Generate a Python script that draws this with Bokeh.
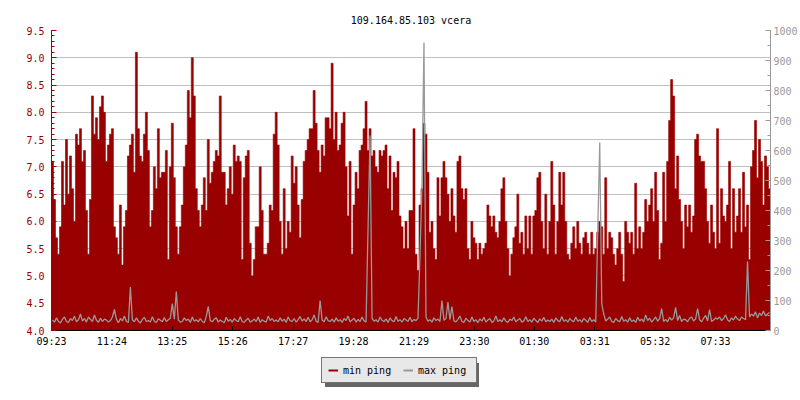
from bokeh.plotting import figure
from bokeh.layouts import column
from bokeh.models import (Range1d, LinearAxis, FixedTicker, Legend, LegendItem,
                          ColumnDataSource, NumeralTickFormatter)
from bokeh.embed import file_html
from bokeh.resources import INLINE

title_text = "109.164.85.103 vcera"
sample_minutes = 4
span_minutes = 1440

tick_labels = ["09:23", "11:24", "13:25", "15:26", "17:27", "19:28",
               "21:29", "23:30", "01:30", "03:31", "05:32", "07:33"]

left_ticks = [4.0, 4.5, 5.0, 5.5, 6.0, 6.5, 7.0, 7.5, 8.0, 8.5, 9.0, 9.5]
right_ticks = [0, 100, 200, 300, 400, 500, 600, 700, 800, 900, 1000]

series_names = ["min ping", "max ping"]

# min ping (ms), one value every 4 minutes from 09:23
min_ping = [
    7.1, 6.4, 5.7, 5.4, 5.9, 7.1, 6.3, 7.5, 6.5, 7.2,
    6.6, 6.0, 7.6, 7.4, 7.7, 7.1, 7.3, 6.2, 5.4, 6.4,
    8.3, 7.6, 7.9, 7.5, 8.1, 8.3, 8.0, 7.1, 7.4, 7.6,
    7.7, 5.9, 5.7, 5.4, 6.3, 5.2, 5.9, 6.2, 7.2, 7.4,
    7.6, 6.9, 9.1, 7.7, 7.2, 7.1, 7.6, 8.0, 7.3, 5.9,
    6.2, 7.0, 6.6, 7.7, 6.8, 6.9, 6.9, 7.3, 5.3, 7.0,
    7.8, 6.8, 5.9, 5.4, 5.9, 6.3, 7.0, 7.4, 8.4, 7.9,
    9.0, 8.3, 6.6, 6.2, 5.9, 6.3, 6.8, 6.2, 7.5, 6.7,
    6.9, 7.1, 7.3, 7.2, 8.3, 6.9, 6.9, 6.3, 6.6, 7.0,
    6.5, 7.4, 7.1, 7.2, 7.1, 5.3, 6.8, 7.2, 7.3, 5.6,
    5.0, 5.3, 5.9, 5.9, 7.0, 6.2, 5.4, 5.4, 5.6, 6.3,
    6.2, 7.6, 8.0, 7.4, 6.0, 5.4, 6.6, 5.5, 6.0, 5.8,
    7.2, 6.7, 7.0, 6.3, 5.7, 6.4, 7.1, 7.3, 7.5, 7.7,
    7.7, 8.4, 7.8, 7.3, 6.9, 7.4, 7.2, 7.9, 7.9, 7.7,
    8.9, 7.5, 8.0, 7.3, 7.4, 7.8, 8.0, 7.0, 6.1, 7.1,
    5.4, 6.3, 6.9, 6.6, 7.3, 7.4, 7.7, 8.2, 7.3, 7.7,
    7.2, 7.3, 7.0, 6.9, 7.3, 7.2, 7.3, 7.4, 6.6, 7.2,
    6.2, 6.9, 6.8, 7.1, 6.1, 5.9, 5.5, 6.0, 5.5, 6.2,
    6.2, 7.7, 5.4, 5.1, 6.3, 6.6, 7.8, 7.6, 6.9, 5.8,
    6.0, 5.5, 5.3, 6.8, 6.1, 6.8, 7.1, 6.8, 6.5, 6.0,
    6.6, 6.1, 5.8, 7.1, 7.2, 6.6, 6.4, 6.6, 5.5, 5.3,
    6.0, 5.7, 5.6, 5.3, 5.6, 5.4, 5.5, 5.6, 6.3, 6.1,
    5.9, 6.1, 5.8, 5.7, 6.0, 6.6, 6.8, 6.0, 5.5, 5.0,
    5.4, 5.7, 5.9, 6.5, 5.6, 5.8, 5.4, 6.1, 5.5, 6.1,
    5.4, 6.1, 6.2, 6.8, 6.9, 6.0, 5.5, 6.5, 5.4, 6.0,
    7.1, 6.3, 5.4, 6.0, 6.9, 6.3, 6.9, 6.0, 5.4, 5.3,
    5.6, 5.9, 5.5, 6.0, 5.6, 5.4, 5.7, 5.8, 5.6, 5.4,
    5.8, 5.4, 5.5, 5.8, 6.0, 5.9, 5.4, 6.8, 5.5, 5.8,
    5.7, 5.4, 5.2, 5.5, 5.8, 5.4, 4.9, 6.0, 5.8, 5.6,
    5.8, 5.4, 6.7, 5.5, 5.9, 5.5, 5.8, 6.4, 6.0, 6.3,
    6.6, 6.0, 6.9, 6.2, 5.3, 5.6, 6.9, 6.0, 7.1, 7.85,
    8.6, 8.3, 6.6, 7.2, 6.4, 6.0, 5.5, 6.3, 5.9, 6.3,
    5.8, 6.1, 7.5, 7.6, 7.2, 7.1, 7.1, 6.6, 6.0, 5.6,
    6.3, 5.8, 5.5, 7.7, 5.6, 6.6, 6.1, 6.0, 6.3, 7.1,
    5.5, 6.6, 5.8, 6.1, 6.6, 5.8, 6.9, 5.9, 6.3, 5.3,
    7.0, 7.3, 7.85, 6.8, 7.5, 7.1, 6.3, 7.2, 7.0, 6.6,
]

# max ping (ms), same sampling
max_ping = [
    35, 28, 42, 30, 25, 38, 45, 30, 27, 40, 33, 48, 29, 36, 55, 31, 40, 28, 45, 37,
    30, 52, 34, 27, 41, 30, 38, 35, 28, 33, 45, 70, 38, 26, 40, 32, 48, 30, 27, 145,
    36, 29, 42, 31, 25, 37, 44, 30, 33, 28, 46, 31, 27, 39, 34, 29, 43, 30, 36, 41,
    90, 38, 130, 35, 28, 30, 42, 33, 38, 27, 45, 31, 36, 29, 40, 30, 26, 47, 80, 33,
    29, 38, 42, 28, 35, 30, 26, 44, 31, 37, 28, 40, 33, 29, 46, 30, 27, 35, 41, 28,
    32, 38, 30, 45, 27, 36, 31, 28, 48, 33, 40, 30, 35, 29, 42, 31, 38, 27, 45, 33,
    30, 40, 28, 36, 47, 31, 39, 30, 44, 29, 36, 52, 31, 27, 100, 35, 29, 46, 33, 30,
    38, 28, 42, 31, 36, 27, 40, 33, 48, 29, 35, 41, 28, 37, 30, 45, 32, 28, 345, 650,
    40, 31, 36, 28, 45, 34, 30, 39, 27, 42, 33, 29, 47, 31, 36, 28, 40, 35, 30, 44,
    29, 37, 33, 41, 250, 490, 960, 45, 31, 36, 28, 42, 33, 38, 30, 100, 34, 40, 95, 36,
    80, 32, 29, 37, 48, 30, 27, 41, 33, 28, 45, 30, 36, 26, 39, 31, 44, 28, 35, 40,
    27, 32, 48, 30, 36, 29, 42, 31, 27, 38, 33, 45, 29, 35, 40, 28, 32, 46, 30, 36,
    28, 41, 33, 27, 39, 31, 44, 29, 35, 30, 38, 27, 42, 33, 29, 47, 31, 36, 28, 40,
    33, 29, 45, 31, 36, 28, 40, 34, 27, 43, 30, 36, 28, 330, 627, 90, 55, 32, 38, 45,
    30, 27, 40, 33, 29, 47, 31, 36, 28, 42, 30, 35, 27, 44, 32, 38, 29, 52, 33, 41,
    28, 36, 45, 31, 40, 73, 30, 37, 29, 44, 35, 42, 77, 33, 50, 30, 38, 36, 29, 41,
    45, 32, 38, 73, 36, 29, 41, 50, 32, 70, 30, 35, 42, 38, 45, 33, 40, 52, 36, 30,
    42, 35, 48, 38, 33, 45, 40, 36, 230, 45, 55, 48, 62, 42, 58, 50, 65, 48, 55, 60,
]

RED = "#990000"
GRAY = "#999999"
FONT = "DejaVu Sans Mono"

# sample times (minutes since the start, 09:23)
x = [i * sample_minutes for i in range(len(min_ping))]
x_end = [v + sample_minutes for v in x]
x_mid = [v + sample_minutes / 2 for v in x]

# outline of the stepped min-ping area, built from the series (one solid shape, no seams)
area_x, area_y = [x[0]], [left_ticks[0]]
for a, b, v in zip(x, x_end, min_ping):
    area_x += [a, b]
    area_y += [v, v]
area_x.append(x_end[-1])
area_y.append(left_ticks[0])


def to_minutes(lbl, start=tick_labels[0]):
    h, m = map(int, lbl.split(":"))
    h0, m0 = map(int, start.split(":"))
    return (h * 60 + m - (h0 * 60 + m0)) % 1440


tick_pos = [to_minutes(t) for t in tick_labels]

src = ColumnDataSource(dict(x=x, x_end=x_end, x_mid=x_mid, min=min_ping, max=max_ping))

p = figure(width=800, height=352, output_backend="svg", toolbar_location=None,
           x_range=Range1d(0, span_minutes), y_range=Range1d(left_ticks[0], left_ticks[-1]),
           min_border_left=51, min_border_right=30, min_border_top=30, min_border_bottom=22,
           title=title_text, outline_line_color=None, background_fill_color="white",
           border_fill_color="white")
p.extra_y_ranges = {"ms": Range1d(right_ticks[0], right_ticks[-1])}

p.title.text_font = FONT
p.title.text_font_size = "10px"
p.title.text_font_style = "normal"
p.title.align = "center"
p.title.text_color = "black"

# red area (min ping)
p.patch(x=area_x, y=area_y, fill_color=RED, line_color=RED, line_width=0.6)
# gray line (max ping) on right axis
p.line(x="x_mid", y="max", source=src, y_range_name="ms",
       line_color=GRAY, line_width=1.3)

# left axis
lt = FixedTicker(ticks=left_ticks,
                 minor_ticks=[round(4.0 + 0.1 * k, 1) for k in range(56)])
ya = p.yaxis[0]
ya.ticker = lt
ya.formatter = NumeralTickFormatter(format="0.0")
ya.axis_line_color = RED
ya.major_tick_line_color = RED
ya.minor_tick_line_color = RED
ya.major_tick_in = 5
ya.major_tick_out = 0
ya.minor_tick_in = 3
ya.minor_tick_out = 0
ya.major_label_text_color = RED
ya.major_label_text_font = FONT
ya.major_label_text_font_size = "10px"
ya.major_label_standoff = 7

# right axis
rt = FixedTicker(ticks=right_ticks, minor_ticks=list(range(0, 1001, 50)))
ra = LinearAxis(y_range_name="ms", ticker=rt)
ra.axis_line_color = GRAY
ra.major_tick_line_color = GRAY
ra.minor_tick_line_color = GRAY
ra.major_tick_in = 5
ra.major_tick_out = 0
ra.minor_tick_in = 3
ra.minor_tick_out = 0
ra.major_label_text_color = GRAY
ra.major_label_text_font = FONT
ra.major_label_text_font_size = "10px"
ra.major_label_standoff = 3
p.add_layout(ra, "right")

# x axis
xa = p.xaxis[0]
xa.ticker = FixedTicker(ticks=tick_pos, minor_ticks=[])
xa.major_label_overrides = {t: l for t, l in zip(tick_pos, tick_labels)}
xa.axis_line_color = "black"
xa.major_tick_line_color = "black"
xa.major_tick_in = 4
xa.major_tick_out = 0
xa.minor_tick_line_color = None
xa.major_label_text_font = FONT
xa.major_label_text_font_size = "10px"
xa.major_label_text_color = "black"
xa.major_label_standoff = 5

p.xgrid.visible = False
p.ygrid.ticker = lt
p.ygrid.grid_line_color = "#c0c0c0"

# legend strip (separate small figure so the boxed legend with shadow is not clipped)
lf = figure(width=800, height=48, output_backend="svg", toolbar_location=None,
            x_axis_type=None, y_axis_type=None, min_border=0, outline_line_color=None,
            x_range=Range1d(0, 1), y_range=Range1d(-2, -1), background_fill_color="white",
            border_fill_color="white")
# legend renderers: series lines kept outside this strip's visible range
l_min = lf.line(x="x", y="min", source=src, line_color=RED, line_width=2)
l_max = lf.line(x="x", y="max", source=src, line_color=GRAY, line_width=2)
s_min = lf.line(x="x", y="min", source=src, line_alpha=0)
s_max = lf.line(x="x", y="max", source=src, line_alpha=0)

common = dict(orientation="horizontal", glyph_width=10, glyph_height=12, label_height=12,
              label_standoff=5, spacing=8, padding=6, margin=0, label_width=52,
              label_text_font=FONT, label_text_font_size="10px")

shadow = Legend(items=[LegendItem(label=" ", renderers=[s_min]),
                       LegendItem(label=" ", renderers=[s_max])],
                location=(274, 13), background_fill_color="#666666", background_fill_alpha=1,
                border_line_alpha=0, label_text_color="#666666", **common)
legend = Legend(items=[LegendItem(label=series_names[0], renderers=[l_min]),
                       LegendItem(label=series_names[1], renderers=[l_max])],
                location=(270, 17), background_fill_color="#e8e8e8", background_fill_alpha=1,
                border_line_color="black", border_line_width=1, label_text_color="black",
                **common)
lf.add_layout(shadow)
lf.add_layout(legend)

layout = column(p, lf, spacing=0)
open("out.html", "w").write(file_html(layout, INLINE))
